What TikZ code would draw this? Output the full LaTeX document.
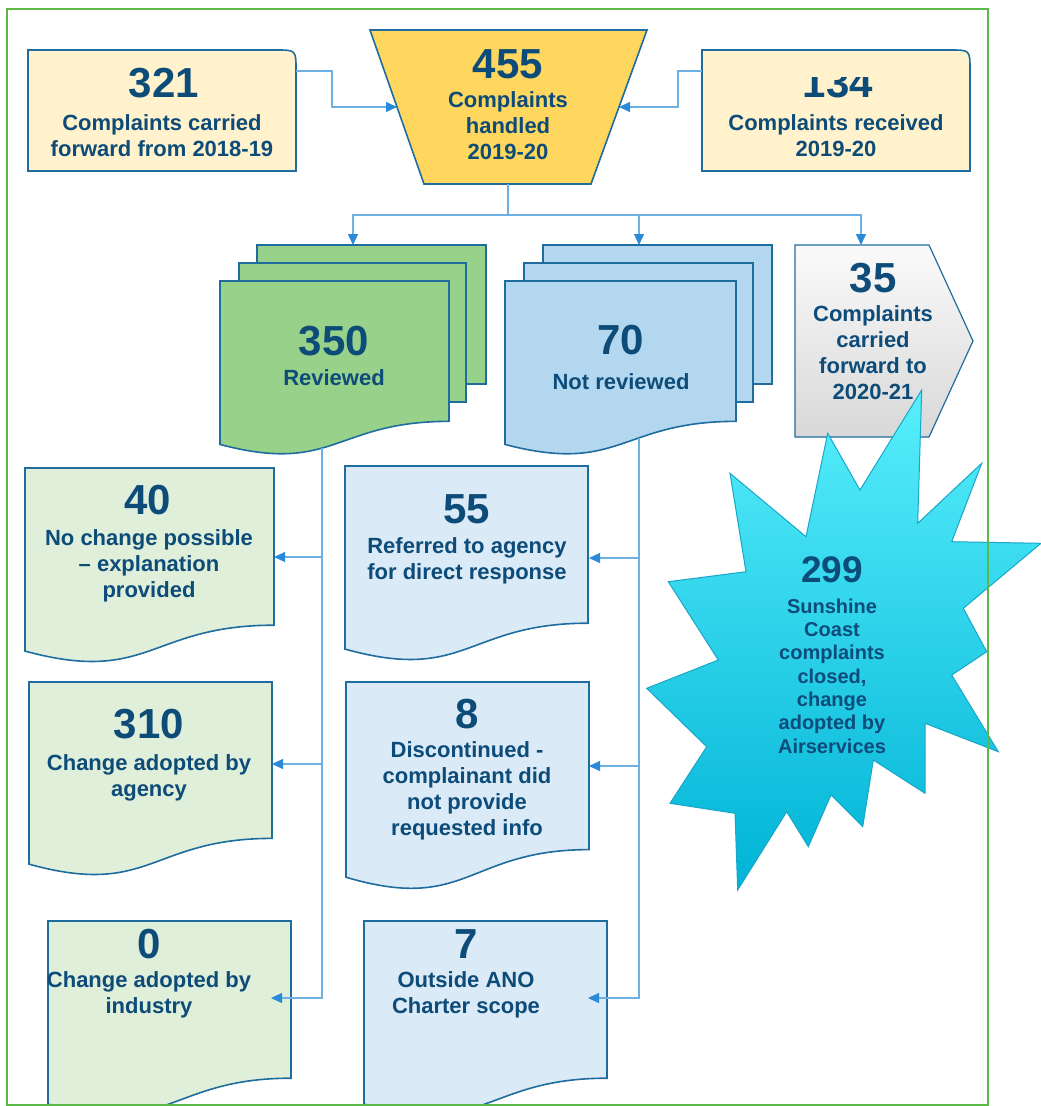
\documentclass[tikz,border=0pt]{standalone}
\usepackage{fontspec}
\setmainfont{Liberation Sans}
\usetikzlibrary{arrows.meta}

\definecolor{navy}{HTML}{0D4B79}
\definecolor{bordc}{HTML}{1F6D9E}
\definecolor{linec}{HTML}{6DB0E4}
\definecolor{arrc}{HTML}{2A8AD8}
\definecolor{paleyel}{HTML}{FFF2CC}
\definecolor{gold}{HTML}{FFD75E}
\definecolor{revgreen}{HTML}{97D18A}
\definecolor{notblue}{HTML}{B3D7EE}
\definecolor{palegreen}{HTML}{E0EFD9}
\definecolor{paleblue}{HTML}{DAEAF6}
\definecolor{framegreen}{HTML}{5BB947}
\definecolor{grtop}{HTML}{FAFAFA}
\definecolor{grbot}{HTML}{D8D8D8}
\definecolor{startop}{HTML}{58EFFC}
\definecolor{starmid}{HTML}{05D2EA}
\definecolor{starbot}{HTML}{00B3D6}
\definecolor{starline}{HTML}{1AA6C8}

% document shape: style, left x, right x, top y, height
\newcommand{\docshape}[5]{%
  \path[#1] (#2,#4) -- (#3,#4) -- (#3,{#4+0.802*#5})
    .. controls ({(#2+#3)/2},{#4+0.802*#5}) and ({(#2+#3)/2},{#4+1.107*#5})
    .. (#2,{#4+0.934*#5}) -- cycle;}

\begin{document}
\begin{tikzpicture}
      [x=1pt,y=-1pt,%%%%%%%%%%%%%%%%%%%%%%%%%%%%%%
      box/.style={draw=bordc,line width=1.6pt},
      wire/.style={draw=linec,line width=1.1pt},
      conn/.style={wire,-{Triangle[length=11pt,width=10pt,color=arrc]}},
      num/.style={text=navy,inner sep=0pt,font=\bfseries\fontsize{42}{44}\selectfont},
      lbl/.style={text=navy,inner sep=0pt,align=center,font=\bfseries\fontsize{22}{26}\selectfont},
      starnum/.style={text=navy,inner sep=0pt,font=\bfseries\fontsize{37}{40}\selectfont},
      starlbl/.style={text=navy,inner sep=0pt,align=center,font=\bfseries\fontsize{20}{23.3}\selectfont},
      frame/.style={draw=framegreen,line width=2pt},
      ]%%%%%%%%%%%%%%%%%%%%%%%%%%%%%%
      \useasboundingbox (0,0) rectangle (1041,1106);

      % top row
      \path[box,fill=paleyel] (28,171) -- (28,50) -- (276,50) .. controls (296,50) .. (296,70) -- (296,171) -- cycle;
      \path[box,fill=paleyel] (702,171) -- (702,50) -- (950,50) .. controls (970,50) .. (970,70) -- (970,171) -- cycle;
      \path[box,fill=gold] (370,30) -- (647,30) -- (591,184) -- (424,184) -- cycle;

      % reviewed / not reviewed stacks
      \path[box,fill=revgreen] (257,245) rectangle (486,384);
      \path[box,fill=revgreen] (239,263) rectangle (466,402);
      \docshape{box,fill=revgreen}{220}{449}{281}{175}
      \path[box,fill=notblue] (543,245) rectangle (772,384);
      \path[box,fill=notblue] (524,263) rectangle (753,402);
      \docshape{box,fill=notblue}{505}{736}{281}{175}
      \path[draw=bordc,line width=1.2pt,top color=grtop,bottom color=grbot]
        (795,245) -- (929,245) -- (973,341) -- (929,437) -- (795,437) -- cycle;

      % outcomes
      \docshape{box,fill=palegreen}{25}{274}{468}{196}
      \docshape{box,fill=palegreen}{29}{272}{682}{195}
      \docshape{box,fill=palegreen}{48}{291}{921}{196}
      \docshape{box,fill=paleblue}{345}{588}{466}{196}
      \docshape{box,fill=paleblue}{346}{589}{682}{209}
      \docshape{box,fill=paleblue}{364}{607}{921}{196}

      % texts
      \node[num] (n321) at (164,83) {321};
      \node[lbl] (t321) at (162,136) {Complaints carried\\forward from 2018-19};
      \node[num] (n455) at (508,64) {455};
      \node[lbl] (t455) at (508,126) {Complaints\\handled\\2019-20};
      \begin{scope}
        \clip (702,77) rectangle (970,171);
        \node[num] (n134) at (838,83) {134};
      \end{scope}
      \node[lbl] (t134) at (836,136) {Complaints received\\2019-20};
      \node[num] (n350) at (334,341) {350};
      \node[lbl] (t350) at (334,378) {Reviewed};
      \node[num] (n70) at (621,340) {70};
      \node[lbl] (t70) at (621,382) {Not reviewed};
      \node[num] (n35) at (873,278) {35};
      \node[lbl] (t35) at (873,353) {Complaints\\carried\\forward to\\2020-21};
      \node[num] (n40) at (148,500) {40};
      \node[lbl] (t40) at (149,566) {No change possible\\\textendash{} explanation\\provided};
      \node[num] (n55) at (467,509) {55};
      \node[lbl] (t55) at (467,561) {Referred to agency\\for direct response};
      \node[num] (n310) at (149,724) {310};
      \node[lbl] (t310) at (149,778) {Change adopted by\\agency};
      \node[num] (n8) at (467,714) {8};
      \node[lbl] (t8) at (467,791) {Discontinued -\\complainant did\\not provide\\requested info};
      \node[num] (n0) at (149,944) {0};
      \node[lbl] (t0) at (149,995) {Change adopted by\\industry};
      \node[num] (n7) at (466,944) {7};
      \node[lbl] (t7) at (466,995) {Outside ANO\\Charter scope};

      % connectors
      \coordinate (o321) at (296,71);
      \coordinate (o134) at (702,71);
      \coordinate (trapL) at (397,107);
      \coordinate (trapR) at (619,107);
      \coordinate (trapB) at (508,184);
      \coordinate (revT) at (353,245);
      \coordinate (notT) at (639,245);
      \coordinate (fwdT) at (861,245);
      \coordinate (revB) at (322,448);
      \coordinate (notB) at (639,438);
      \coordinate (in40) at (274,557);
      \coordinate (in310) at (272,764);
      \coordinate (in0) at (271,998);
      \coordinate (in55) at (589,558);
      \coordinate (in8) at (589,766);
      \coordinate (in7) at (588,998);
      \draw[conn] (o321) -- ++(36,0) |- (trapL);
      \draw[conn] (o134) -- ++(-24,0) |- (trapR);
      \draw[wire] (trapB) -- ++(0,31) coordinate (split);
      \draw[conn] (split) -| (revT);
      \draw[conn] (split) -| (notT);
      \draw[conn] (split) -| (fwdT);
      \draw[conn] (revB) |- (in0);
      \draw[conn] (revB |- in40) -- (in40);
      \draw[conn] (revB |- in310) -- (in310);
      \draw[conn] (notB) |- (in7);
      \draw[conn] (notB |- in55) -- (in55);
      \draw[conn] (notB |- in8) -- (in8);

      % starburst
      \path[draw=starline,line width=1pt,top color=startop,middle color=starmid,bottom color=starbot]
        (921.7,390) -- (917.7,523.3) -- (981.7,463.3) -- (951.7,541.7) -- (1041,543.3)
        -- (963.3,608.3) -- (986.7,651.7) -- (951.7,675) -- (998.3,751.7) -- (925,723.3)
        -- (925,793.3) -- (873.3,760) -- (862.7,826.7) -- (831,795) -- (808.3,846.7)
        -- (786.7,811.7) -- (737.7,890) -- (735,813.3) -- (670,803.3) -- (706.7,746.7)
        -- (646.7,688.3) -- (718.3,660) -- (668.3,581.7) -- (746,571.7) -- (730,473.3)
        -- (806,536.7) -- (827.7,433.3) -- (860,490) -- cycle;
      \node[starnum] (n299) at (832,570) {299};
      \node[starlbl] (t299) at (832,676) {Sunshine\\Coast\\complaints\\closed,\\change\\adopted by\\Airservices};

      \draw[frame] (7,9) rectangle (988,1105);
    \end{tikzpicture}
\end{document}
